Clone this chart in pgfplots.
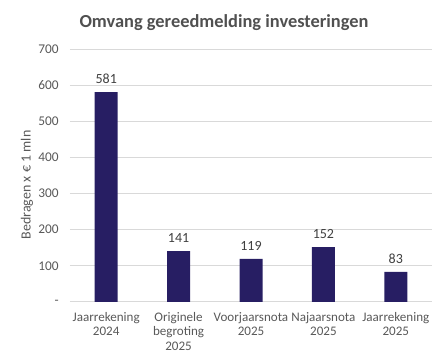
\documentclass[border=0pt]{standalone}
\usepackage{pgfplots}
\pgfplotsset{compat=1.18}
\usepackage{fontspec}
\setmainfont{Carlito}
\definecolor{barc}{HTML}{271E63}
\definecolor{gridc}{HTML}{D9D9D9}
\definecolor{tickc}{HTML}{595959}
\definecolor{titlec}{HTML}{505050}
\definecolor{valc}{HTML}{404040}
\begin{document}
\begin{tikzpicture}
\useasboundingbox (0,0) rectangle (335.25pt,272.25pt);
\node[font=\bfseries\fontsize{13.8}{16}\selectfont, text=titlec] at (168pt,255pt) {Omvang gereedmelding investeringen};
\node[rotate=90, font=\fontsize{10.5}{12}\selectfont, text=tickc] at (20.25pt,133.5pt) {Bedragen x € 1 mln};
\begin{axis}[
  at={(52.5pt,45.75pt)}, anchor=south west,
  scale only axis,
  width=271.5pt, height=189.75pt,
  ymin=0, ymax=700,
  xmin=-0.5, xmax=4.5,
  axis x line*=bottom, axis y line*=left,
  axis line style={draw=none},
  tick style={draw=none},
  ymajorgrids, grid style={gridc, line width=0.75pt},
  ytick={0,100,200,300,400,500,600,700},
  yticklabels={-,100,200,300,400,500,600,700},
  yticklabel style={font=\fontsize{10}{12}\selectfont, text=tickc, xshift=-5pt},
  /pgf/number format/assume math mode=true,
  xtick={0,1,2,3,4},
  xticklabels={{Jaarrekening\\2024},{Originele\\begroting\\2025},{Voorjaarsnota\\2025},{Najaarsnota\\2025},{Jaarrekening\\2025}},
  xticklabel style={font=\fontsize{9.8}{10.9}\selectfont, text=tickc, align=center, yshift=-4pt},
  major tick length=0pt,
  ybar, bar width=17.25pt,
  nodes near coords,
  every node near coord/.append style={font=\fontsize{10.5}{12}\selectfont, text=valc, yshift=3pt},
  clip=false,
]
\addplot[fill=barc, draw=none] coordinates {(0,581) (1,141) (2,119) (3,152) (4,83)};
\end{axis}
\end{tikzpicture}
\end{document}
